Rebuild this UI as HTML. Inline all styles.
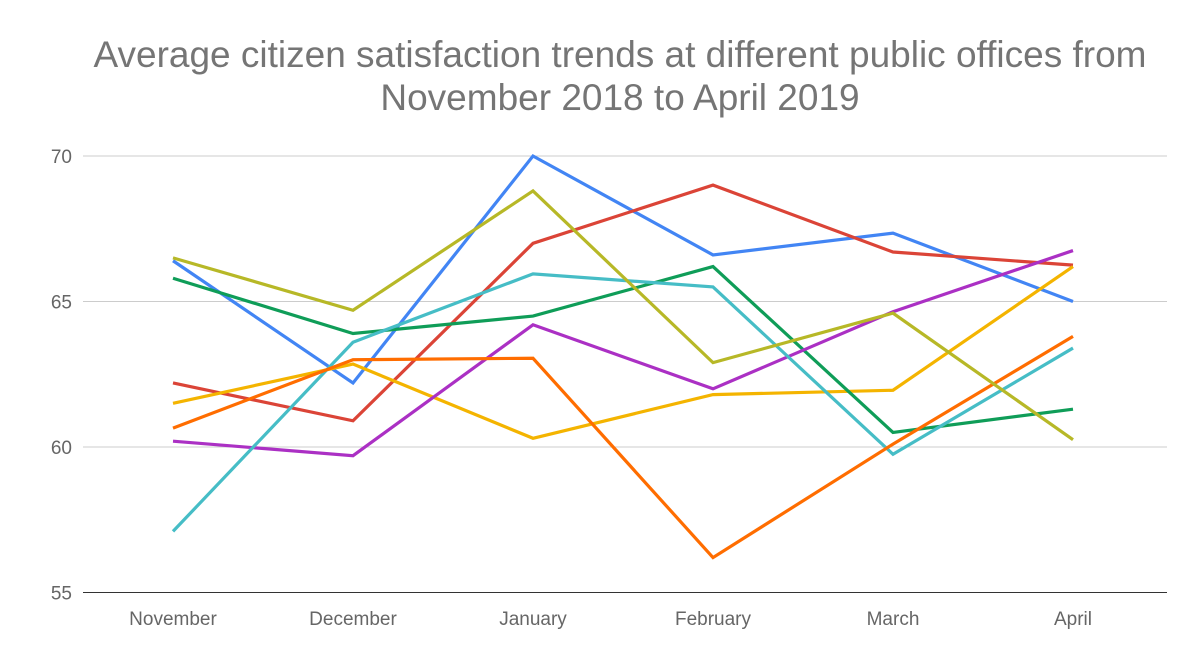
<!DOCTYPE html>
<html><head><meta charset="utf-8"><style>
body{margin:0;background:#fff;}
svg{display:block;font-family:"Liberation Sans",Arial,sans-serif;}
</style></head><body>
<svg id="chart" width="1200" height="664">
<text x="620" y="67" text-anchor="middle" font-size="37" fill="#757575">Average citizen satisfaction trends at different public offices from</text>
<text x="620" y="110" text-anchor="middle" font-size="37" fill="#757575">November 2018 to April 2019</text>
<g id="grid"></g><g id="lines"></g><g id="xlabels"></g>
</svg>
<script>
const categories=["November","December","January","February","March","April"];
const yTicks=[55,60,65,70];
const blue=[66.4,62.2,70.0,66.6,67.35,65.0];
const red=[62.2,60.9,67.0,69.0,66.7,66.25];
const yellow=[61.5,62.85,60.3,61.8,61.95,66.2];
const green=[65.8,63.9,64.5,66.2,60.5,61.3];
const purple=[60.2,59.7,64.2,62.0,64.65,66.75];
const teal=[57.1,63.6,65.95,65.5,59.75,63.4];
const orange=[60.65,63.0,63.05,56.2,60.1,63.8];
const olive=[66.5,64.7,68.8,62.9,64.6,60.25];
const seriesList=[["blue",blue,"#4285F4"],["red",red,"#DB4437"],["yellow",yellow,"#F4B400"],["green",green,"#0F9D58"],["purple",purple,"#AB30C4"],["teal",teal,"#46BDC6"],["orange",orange,"#FF6D00"],["olive",olive,"#B7B827"]];
const NS="http://www.w3.org/2000/svg";
const x=i=>173+i*180;
const y=v=>156+(70-v)*29.1;
const grid=document.getElementById('grid');
yTicks.forEach(t=>{
 const l=document.createElementNS(NS,'line');
 
 
 l.setAttribute('x1',83);l.setAttribute('x2',1167);l.setAttribute('y1',y(t));l.setAttribute('y2',y(t));
 l.setAttribute('stroke',t===55?'#333':'#ccc');l.setAttribute('stroke-width',1);
 grid.appendChild(l);
 const tx=document.createElementNS(NS,'text');
 
 
 tx.setAttribute('x',72);tx.setAttribute('y',y(t)+7);tx.setAttribute('text-anchor','end');
 tx.setAttribute('font-size',19);tx.setAttribute('fill','#666');tx.textContent=t;
 grid.appendChild(tx);
});
const xl=document.getElementById('xlabels');
categories.forEach((c,i)=>{
 const tx=document.createElementNS(NS,'text');
 
 
 tx.setAttribute('x',x(i));tx.setAttribute('y',625);tx.setAttribute('text-anchor','middle');
 tx.setAttribute('font-size',19);tx.setAttribute('fill','#666');tx.textContent=c;
 xl.appendChild(tx);
});
const lines=document.getElementById('lines');
seriesList.forEach(([n,d,c])=>{
 const p=document.createElementNS(NS,'polyline');
 
 
 p.setAttribute('points',d.map((v,i)=>x(i)+','+y(v)).join(' '));
 p.setAttribute('fill','none');p.setAttribute('stroke',c);p.setAttribute('stroke-width',3.2);
 lines.appendChild(p);
});
</script>
</body></html>
